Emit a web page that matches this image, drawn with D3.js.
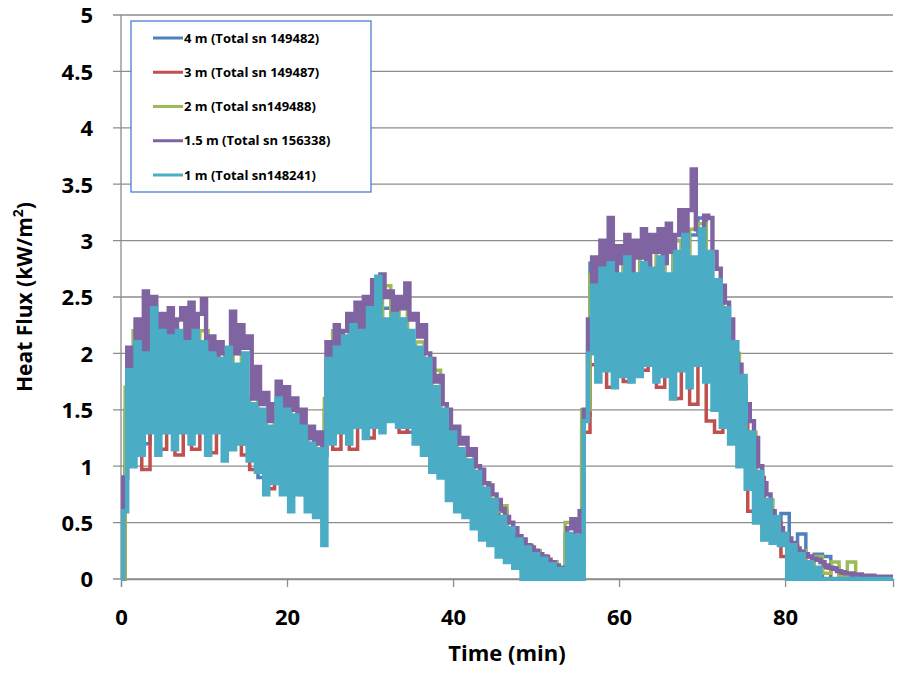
<!DOCTYPE html>
<html>
<head>
<meta charset="utf-8">
<script src="https://cdn.jsdelivr.net/npm/d3@7"></script>
<style>
  html, body { margin: 0; padding: 0; background: #fff; }
  svg { display: block; font-family: "Open Sans", Lato, sans-serif; }
</style>
</head>
<body>
<svg id="chart" width="899" height="676"></svg>
<script>
// ---- Data ----
const seriesNames = ["4 m (Total sn 149482)", "3 m (Total sn 149487)", "2 m (Total sn149488)", "1.5 m (Total sn 156338)", "1 m (Total sn148241)"];
const seriesColors = ["#4F81BD", "#C0504D", "#9BBB59", "#8064A2", "#4BACC6"];
const xTicks = [0, 20, 40, 60, 80];
const yTicks = [0, 0.5, 1, 1.5, 2, 2.5, 3, 3.5, 4, 4.5, 5];
const yTickLabels = ["0", "0.5", "1", "1.5", "2", "2.5", "3", "3.5", "4", "4.5", "5"];

// sampled every 0.5 min from t = 0
const purpleStepMin = 0.5;
const purple15m = [
  0.0, 0.9, 2.05, 1.85, 2.3, 1.95, 2.55, 2.0, 2.5, 2.1,
  2.35, 1.95, 2.4, 2.05, 2.3, 2.4, 2.0, 2.45, 2.1, 2.35,
  2.48, 1.95, 2.15, 1.9, 2.1, 2.0, 1.95, 2.37, 2.0, 2.25,
  2.05, 2.15, 1.6, 1.88, 1.55, 1.65, 1.4, 1.55, 1.75, 1.45,
  1.7, 1.5, 1.6, 1.35, 1.5, 1.25, 1.35, 1.2, 1.3, 1.1,
  2.1, 1.9, 2.25, 1.95, 2.2, 2.35, 2.0, 2.45, 2.2, 2.5,
  2.3, 2.65, 2.45, 2.7, 2.5, 2.55, 2.35, 2.5, 2.4, 2.62,
  2.3, 2.35, 2.15, 2.25, 2.0, 1.95, 1.75, 1.8, 1.55, 1.5,
  1.3, 1.35, 1.2, 1.25, 1.1, 1.15, 1.0, 0.97, 0.85, 0.83,
  0.75, 0.7, 0.62, 0.55, 0.5, 0.45, 0.38, 0.35, 0.3, 0.28,
  0.25, 0.22, 0.2, 0.17, 0.15, 0.12, 0.1, 0.08, 0.45, 0.53,
  0.42, 0.6, 1.5, 2.3, 2.85, 2.6, 3.0, 2.75, 3.2, 2.7,
  2.95, 2.8, 3.05, 2.7, 3.0, 2.85, 3.1, 2.75, 3.05, 2.9,
  3.1, 2.8, 3.15, 2.9, 3.05, 3.27, 2.95, 3.27, 3.63, 3.1,
  3.0, 3.22, 3.2, 2.9, 2.75, 2.6, 2.45, 2.3, 2.0, 1.9,
  1.7, 1.55, 1.4, 1.25, 1.0, 0.85, 0.75, 0.6, 0.52, 0.45,
  0.4, 0.36, 0.32, 0.27, 0.24, 0.22, 0.2, 0.18, 0.17, 0.15,
  0.12, 0.1, 0.09, 0.07, 0.06, 0.05, 0.05, 0.04, 0.04, 0.03,
  0.03, 0.03, 0.02, 0.02, 0.02, 0.02, 0.02
];
const cyanStepMin = 0.5;
const cyan1m = [
  0.0, 0.6, 1.85, 1.0, 2.1, 1.1, 2.0, 1.3, 2.4, 1.1,
  2.2, 1.3, 2.15, 1.15, 2.2, 1.3, 2.1, 1.2, 2.2, 1.3,
  2.1, 1.1, 2.0, 1.3, 1.95, 1.05, 2.05, 1.15, 1.9, 1.2,
  2.0, 1.05, 1.55, 0.95, 1.5, 0.75, 1.35, 0.85, 1.6, 0.75,
  1.5, 0.6, 1.45, 0.75, 1.35, 0.6, 1.2, 0.55, 1.15, 0.3,
  1.95, 1.2, 2.05, 1.3, 2.15, 1.2, 2.25, 1.35, 2.2, 1.25,
  2.4, 1.35, 2.68, 1.3, 2.3, 1.4, 2.35, 1.35, 2.3, 1.35,
  2.2, 1.2, 2.05, 1.1, 1.95, 0.95, 1.7, 0.9, 1.5, 0.7,
  1.3, 0.6, 1.15, 0.55, 1.05, 0.45, 0.95, 0.35, 0.8, 0.3,
  0.7, 0.2, 0.55, 0.15, 0.45, 0.1, 0.35, 0.0, 0.28, 0.0,
  0.22, 0.0, 0.18, 0.0, 0.13, 0.0, 0.09, 0.0, 0.4, 0.0,
  0.38, 0.0, 1.4, 2.0, 2.6, 1.75, 2.75, 1.85, 2.8, 1.7,
  2.7, 1.8, 2.85, 1.75, 2.7, 1.8, 2.8, 1.9, 2.75, 1.75,
  2.85, 1.8, 2.7, 1.6, 2.9, 1.85, 3.05, 1.7, 2.85, 1.9,
  3.1, 1.75, 2.9, 1.5, 2.65, 1.35, 2.4, 1.2, 2.1, 1.0,
  1.8, 0.8, 1.3, 0.5, 0.95, 0.35, 0.7, 0.32, 0.55, 0.3,
  0.4, 0.0, 0.3, 0.0, 0.22, 0.0, 0.15, 0.0, 0.1, 0.0,
  0.0, 0.0, 0.0, 0.0, 0.0, 0.0, 0.0, 0.0, 0.0, 0.0,
  0.0, 0.0, 0.0, 0.0, 0.0, 0.0, 0.0
];
// sampled every 1 min from t = 0
const blueStepMin = 1;
const blue4m = [
  0, 1.5, 2.2, 1.2, 2.2, 1.3, 2.1, 1.3, 2.1, 1.3,
  2.1, 1.3, 1.9, 1.3, 1.9, 1.2, 1.5, 0.9, 1.4, 0.9,
  1.4, 0.8, 1.3, 0.8, 1.1, 1.5, 2.1, 1.4, 2.2, 1.4,
  2.3, 1.5, 2.4, 1.4, 2.3, 1.3, 2.0, 1.2, 1.7, 1.0,
  1.25, 0.8, 1.0, 0.7, 0.8, 0.5, 0.6, 0.3, 0.35, 0.2,
  0.25, 0.15, 0.15, 0.05, 0.4, 0.35, 1.45, 2.8, 1.9, 2.9,
  1.8, 2.85, 1.9, 2.9, 1.9, 2.9, 1.8, 3.0, 1.9, 3.05,
  3.2, 2.0, 2.5, 1.4, 1.9, 1.0, 1.2, 0.55, 0.7, 0.4,
  0.58, 0.3, 0.4, 0.2, 0.22, 0.2, 0.1, 0.05, 0.03, 0.02,
  0.02, 0.01, 0.01, 0.01
];
const redStepMin = 1;
const red3m = [
  0, 1.0, 2.0, 0.97, 2.1, 1.15, 2.0, 1.1, 2.0, 1.15,
  2.0, 1.12, 1.9, 1.15, 1.9, 1.1, 0.97, 1.4, 0.8, 1.3,
  0.82, 1.3, 0.75, 1.1, 0.6, 1.3, 1.15, 2.0, 1.15, 2.1,
  1.25, 2.2, 1.45, 2.2, 1.3, 2.0, 1.3, 1.8, 1.12, 1.4,
  0.83, 1.1, 0.7, 0.9, 0.45, 0.6, 0.3, 0.4, 0.1, 0.3,
  0.0, 0.2, 0.05, 0.1, 0.0, 0.3, 1.3, 1.9, 2.7, 1.7,
  2.6, 1.75, 2.7, 1.85, 2.7, 1.7, 2.6, 1.6, 2.8, 1.55,
  2.8, 1.4, 1.3, 2.2, 1.3, 1.4, 0.6, 0.9, 0.35, 0.5,
  0.2, 0.3, 0.1, 0.2, 0.0, 0.1, 0.0, 0.05, 0.0, 0.0,
  0.0, 0.0, 0.0, 0.0
];
const greenStepMin = 1;
const green2m = [
  0, 1.7, 2.2, 1.5, 2.3, 1.4, 2.3, 1.5, 2.2, 1.4,
  2.2, 1.4, 2.0, 1.5, 2.0, 1.3, 1.6, 1.0, 1.5, 0.9,
  1.5, 0.9, 1.3, 0.8, 1.2, 1.6, 2.2, 1.5, 2.35, 1.5,
  2.5, 1.5, 2.6, 1.5, 2.4, 1.4, 2.1, 1.2, 1.85, 1.2,
  1.3, 0.9, 1.1, 0.8, 0.85, 0.6, 0.65, 0.3, 0.35, 0.2,
  0.25, 0.12, 0.15, 0.08, 0.5, 0.45, 1.5, 2.7, 2.0, 2.95,
  2.0, 2.9, 2.0, 2.9, 2.1, 3.0, 2.0, 3.0, 2.1, 3.1,
  3.15, 2.0, 2.6, 1.5, 2.0, 1.1, 1.3, 0.6, 0.7, 0.35,
  0.35, 0.15, 0.25, 0.1, 0.2, 0.05, 0.15, 0.02, 0.15, 0.02,
  0.02, 0.02, 0.02, 0.02
];

const seriesValues = [blue4m, red3m, green2m, purple15m, cyan1m];
const seriesSteps = [blueStepMin, redStepMin, greenStepMin, purpleStepMin, cyanStepMin];

// ---- Layout ----
const svg = d3.select("#chart");
const x = d3.scaleLinear().domain([0, 93]).range([121, 893]);
const y = d3.scaleLinear().domain([0, 5]).range([579, 15]);
const gridColor = "#8c8c8c";
const fontFam = "'Open Sans', Lato, sans-serif";

// gridlines
svg.append("g").selectAll("line").data(yTicks).join("line")
  .attr("x1", 113).attr("x2", 893)
  .attr("y1", d => y(d)).attr("y2", d => y(d))
  .attr("stroke", gridColor).attr("stroke-width", 1.3);

// y tick labels
svg.append("g").selectAll("text").data(yTicks).join("text")
  .attr("x", 93).attr("y", d => y(d)).attr("dy", "0.38em")
  .attr("text-anchor", "end").attr("font-size", 22).attr("font-weight", "bold")
  .attr("fill", "#000")
  .text((d, i) => yTickLabels[i]);

// x axis via d3.axisBottom
const xAxis = d3.axisBottom(x).tickValues(xTicks).tickSize(8).tickPadding(22).tickFormat(d3.format("d"));
const gx = svg.append("g").attr("transform", "translate(0,579)").call(xAxis);
gx.select(".domain").attr("stroke", gridColor).attr("stroke-width", 1.3);
gx.selectAll(".tick line").attr("stroke", gridColor).attr("stroke-width", 1.3);
gx.selectAll(".tick text").attr("font-size", 22).attr("font-weight", "bold")
  .attr("fill", "#000").attr("font-family", fontFam);

// y axis line
svg.append("line").attr("x1", 121).attr("x2", 121).attr("y1", y(5)).attr("y2", 579)
  .attr("stroke", gridColor).attr("stroke-width", 1.3);

// series lines
const line = d3.line().curve(d3.curveStep);
svg.append("clipPath").attr("id", "plotclip").append("rect")
  .attr("x", 121).attr("y", 0).attr("width", 772).attr("height", 581);
const gLines = svg.append("g").attr("clip-path", "url(#plotclip)");
seriesValues.forEach((vals, k) => {
  const pts = vals.map((v, i) => [x(i * seriesSteps[k]), y(v)]);
  gLines.append("path")
    .attr("d", line(pts))
    .attr("fill", "none")
    .attr("stroke", seriesColors[k])
    .attr("stroke-width", seriesSteps[k] < 1 ? 4.4 : 3.5)
    .attr("stroke-linejoin", "miter");
});

// legend
const lg = svg.append("g");
lg.append("rect").attr("x", 131).attr("y", 21).attr("width", 240).attr("height", 171)
  .attr("fill", "#fff").attr("stroke", "#4a7fd6").attr("stroke-width", 1.3);
const legendRowY = d3.scaleLinear().domain([0, 4]).range([38, 175]);
seriesNames.forEach((name, k) => {
  const yy = legendRowY(k);
  lg.append("line").attr("x1", 153).attr("x2", 183).attr("y1", yy).attr("y2", yy)
    .attr("stroke", seriesColors[k]).attr("stroke-width", 3);
  lg.append("text").attr("x", 184).attr("y", yy).attr("dy", "0.36em")
    .attr("font-size", 13).attr("font-weight", "bold").attr("fill", "#000")
    .text(name);
});

// axis titles
svg.append("text").attr("x", 507).attr("y", 661).attr("text-anchor", "middle")
  .attr("font-size", 22).attr("font-weight", "bold").attr("fill", "#000")
  .text("Time (min)");
const yt = svg.append("text").attr("transform", "translate(32,297) rotate(-90)")
  .attr("text-anchor", "middle").attr("font-size", 21).attr("font-weight", "bold").attr("fill", "#000");
yt.append("tspan").text("Heat Flux (kW/m");
yt.append("tspan").attr("font-size", 14).attr("dy", -9).text("2");
yt.append("tspan").attr("dy", 9).text(")");
</script>
</body>
</html>
